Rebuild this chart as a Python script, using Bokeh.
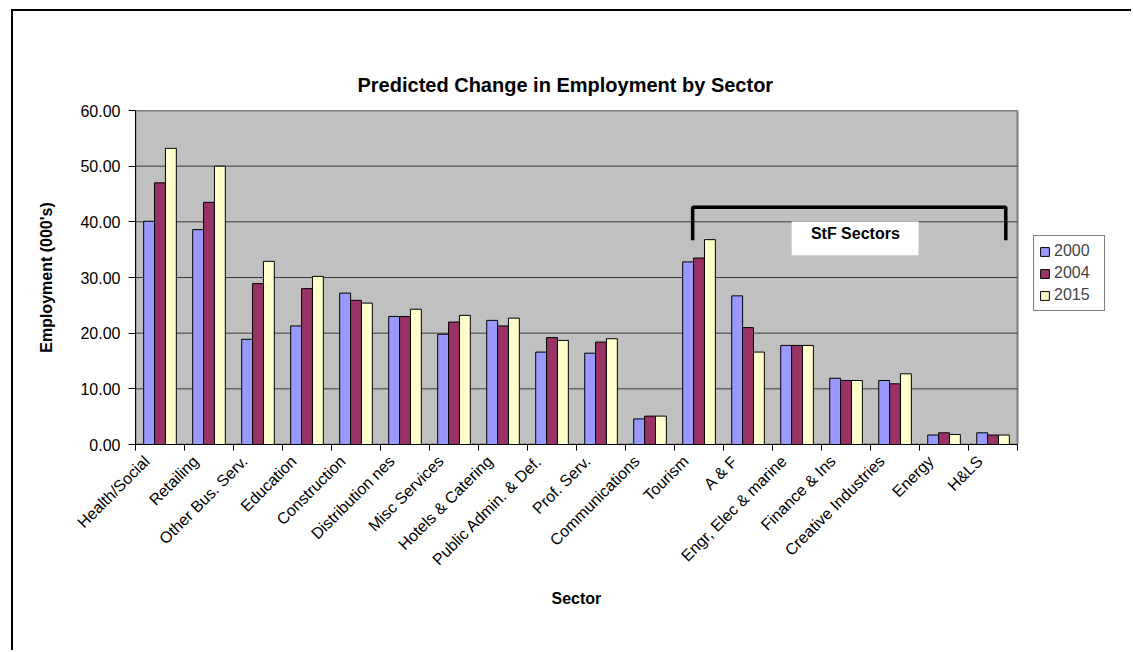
import numpy as np
from bokeh.plotting import figure
from bokeh.models import Range1d, FixedTicker, NumeralTickFormatter, Label, Legend, Title
from bokeh.embed import file_html
from bokeh.resources import INLINE

categories = ["Health/Social", "Retailing", "Other Bus. Serv.", "Education", "Construction",
              "Distribution nes", "Misc Services", "Hotels & Catering", "Public Admin. & Def.",
              "Prof. Serv.", "Communications", "Tourism", "A & F", "Engr, Elec & marine",
              "Finance & Ins", "Creative Industries", "Energy", "H&LS"]
y2000 = [40.1, 38.6, 18.9, 21.3, 27.2, 23.0, 19.8, 22.3, 16.6, 16.4, 4.6, 32.8, 26.7, 17.8, 11.9, 11.5, 1.7, 2.1]
y2004 = [47.0, 43.5, 28.9, 28.0, 25.9, 23.0, 22.0, 21.3, 19.2, 18.4, 5.1, 33.5, 21.0, 17.8, 11.5, 10.9, 2.1, 1.7]
y2015 = [53.2, 50.0, 32.9, 30.2, 25.4, 24.3, 23.2, 22.7, 18.7, 19.0, 5.1, 36.8, 16.6, 17.8, 11.5, 12.7, 1.8, 1.7]
series_names = ["2000", "2004", "2015"]
series_colors = ["#9999FF", "#993366", "#FFFFCC"]
y_ticks = [0, 10, 20, 30, 40, 50, 60]

FONT = "Liberation Sans"
N = len(categories)
YMAX = 60

p = figure(width=1120, height=641, output_backend="svg", toolbar_location=None,
           x_range=Range1d(0, 20.06), y_range=Range1d(0, YMAX),
           min_border_left=122, min_border_right=15, min_border_top=99, min_border_bottom=208)
p.styles = {"margin-left": "11px", "margin-top": "9px",
            "border-left": "2px solid black", "border-top": "2px solid black"}
p.background_fill_color = "white"
p.border_fill_color = "white"
p.outline_line_color = None

p.title.text = "Predicted Change in Employment by Sector"
p.title.align = "left"
p.title.offset = 222
p.title.standoff = 29
p.title.text_font = FONT
p.title.text_font_size = "20px"
p.title.text_font_style = "bold"
p.title.text_color = "black"

# plot area (grey) and gridlines
p.quad(left=[0], right=[N], bottom=[0], top=[YMAX], fill_color="#C0C0C0",
       line_color="#808080", line_width=2)
p.segment(x0=[0] * len(y_ticks), x1=[N] * len(y_ticks), y0=y_ticks, y1=y_ticks,
          line_color="#3a3a3a", line_width=1)
p.xgrid.grid_line_color = None
p.ygrid.grid_line_color = None

centers = np.arange(N) + 0.5
bw = 0.222
renderers = []
for i, vals in enumerate([y2000, y2004, y2015]):
    r = p.vbar(x=centers + (i - 1) * bw, top=vals, width=bw, bottom=0,
               fill_color=series_colors[i], line_color="black", line_width=1)
    renderers.append(r)

# axes
p.yaxis.ticker = FixedTicker(ticks=y_ticks)
p.yaxis.formatter = NumeralTickFormatter(format="0.00")
p.yaxis.minor_tick_line_color = None
p.yaxis.major_tick_in = 0
p.yaxis.major_tick_out = 7
p.yaxis.major_label_standoff = 8
p.yaxis.axis_label = "Employment (000's)"
p.yaxis.axis_label_standoff = 22

label_pos = centers - 0.27
p.xaxis.bounds = (0, N)
p.xaxis.ticker = FixedTicker(ticks=list(label_pos), minor_ticks=list(range(0, N + 1)))
p.xaxis.major_label_overrides = {float(c): lab for c, lab in zip(label_pos, categories)}
p.xaxis.major_tick_in = 0
p.xaxis.major_tick_out = 0
p.xaxis.minor_tick_in = 0
p.xaxis.minor_tick_out = 6
p.xaxis.minor_tick_line_color = "black"
p.xaxis.major_label_orientation = np.pi / 4
p.xaxis.major_label_standoff = 8

for ax in [p.xaxis[0], p.yaxis[0]]:
    ax.axis_line_color = "black"
    ax.major_tick_line_color = "black"
    ax.major_label_text_font = FONT
    ax.major_label_text_font_size = "16px"
    ax.major_label_text_color = "black"
    ax.axis_label_text_font = FONT
    ax.axis_label_text_font_size = "16px"
    ax.axis_label_text_font_style = "bold"
    ax.axis_label_text_color = "black"

# x-axis title (centred under the category area)
p.add_layout(Title(text="Sector", align="left", offset=416, standoff=20,
                   text_font=FONT, text_font_size="16px", text_font_style="bold",
                   text_color="black"), "below")

# StF bracket
i_t = categories.index("Tourism")
i_h = categories.index("H&LS")
bx0, bx1 = i_t + 0.37, i_h + 0.76
p.line(x=[bx0, bx0, bx1, bx1], y=[36.7, 42.6, 42.6, 36.7], line_color="black", line_width=3.5)
p.quad(left=[13.39], right=[15.98], bottom=[34.0], top=[40.06], fill_color="white", line_color=None)
p.add_layout(Label(x=14.69, y=37.9, text="StF Sectors", text_font=FONT, text_font_size="16px",
                   text_font_style="bold", text_align="center", text_baseline="middle",
                   text_color="black"))

# legend
lg = Legend(items=[(n, [r]) for n, r in zip(series_names, renderers)], location=(898, 133))
lg.border_line_color = "black"
lg.border_line_width = 1
lg.background_fill_color = "white"
lg.background_fill_alpha = 1
lg.label_text_font = FONT
lg.label_text_font_size = "16px"
lg.glyph_width = 11
lg.glyph_height = 11
lg.label_standoff = 4
lg.label_width = 45
lg.label_height = 20
lg.padding = 5
lg.spacing = 2
lg.margin = 0
p.add_layout(lg, "center")

open("out.html", "w").write(file_html(p, INLINE))
